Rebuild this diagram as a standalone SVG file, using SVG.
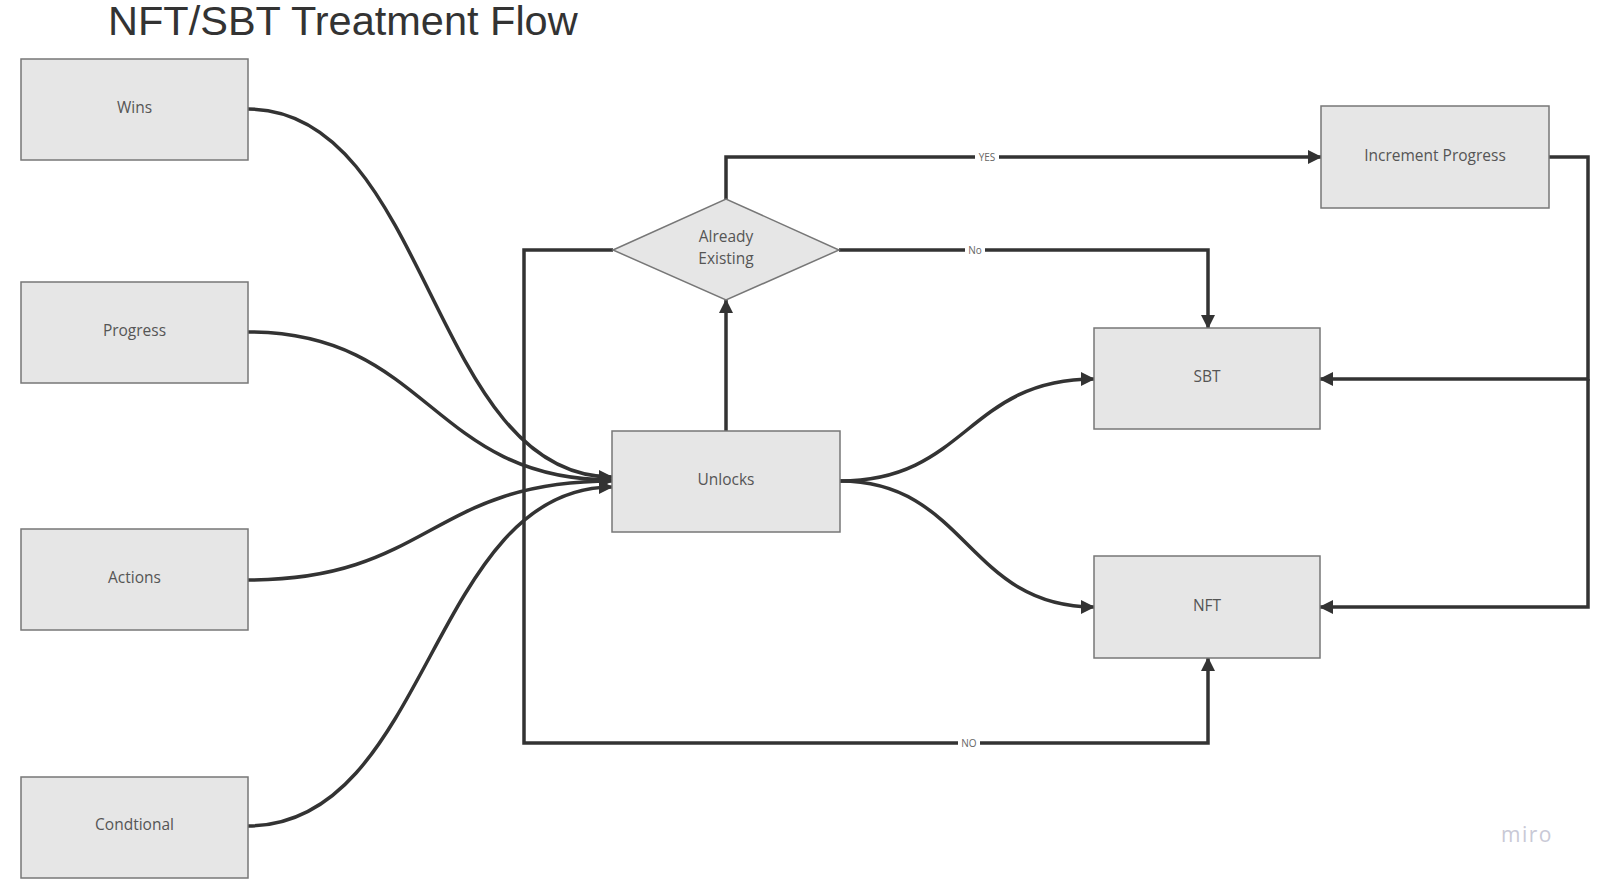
<svg xmlns="http://www.w3.org/2000/svg" width="1600" height="886" viewBox="0 0 1600 886">
<style>
.box{fill:#e6e6e6;stroke:#777;stroke-width:1.5}
.lbl{font-family:"Open Sans","Noto Sans",sans-serif;font-size:15.5px;fill:#555;text-anchor:middle;dominant-baseline:central}
.edge{fill:none;stroke:#333;stroke-width:3.5}
.el{font-family:"Open Sans","Noto Sans",sans-serif;font-size:10px;fill:#666;text-anchor:middle;dominant-baseline:central}
.title{font-family:"Liberation Sans",Arial,sans-serif;font-size:41.5px;fill:#333}
</style>
<defs>
<marker id="arr" markerUnits="userSpaceOnUse" markerWidth="14" markerHeight="14" refX="13" refY="7" orient="auto">
<path d="M0,0 L14,7 L0,14 z" fill="#333"/>
</marker>
</defs>
<rect width="1600" height="886" fill="#fff"/>
<text class="title" x="108" y="35">NFT/SBT Treatment Flow</text>

<g id="connectors">
<path class="edge" d="M248,109 C430,109 430,477 612,477" marker-end="url(#arr)"/>
<path class="edge" d="M248,332 C430,332 430,480 612,480" marker-end="url(#arr)"/>
<path class="edge" d="M248,580 C430,580 430,481 612,481" marker-end="url(#arr)"/>
<path class="edge" d="M248,826 C430,826 430,487 612,487" marker-end="url(#arr)"/>
<path class="edge" d="M726,431 L726,300" marker-end="url(#arr)"/>
<path class="edge" d="M840,481 C967,481 967,379 1094,379" marker-end="url(#arr)"/>
<path class="edge" d="M840,481 C967,481 967,607 1094,607" marker-end="url(#arr)"/>
<path class="edge" d="M726,199 L726,157 L1321,157" marker-end="url(#arr)"/>
<path class="edge" d="M839,250 L1208,250 L1208,328" marker-end="url(#arr)"/>
<path class="edge" d="M613,250 L524,250 L524,743 L1208,743 L1208,658" marker-end="url(#arr)"/>
<path class="edge" d="M1549,157 L1588,157 L1588,379 L1320,379" marker-end="url(#arr)"/>
<path class="edge" d="M1588,379 L1588,607 L1320,607" marker-end="url(#arr)"/>
<rect x="975" y="150" width="24" height="14" fill="#fff"/>
<text class="el" x="987" y="157">YES</text>
<rect x="965" y="243" width="20" height="14" fill="#fff"/>
<text class="el" x="975" y="250">No</text>
<rect x="958" y="736" width="22" height="14" fill="#fff"/>
<text class="el" x="969" y="743">NO</text>
</g>

<g id="wins"><rect class="box" x="21" y="59" width="227" height="101"/><text class="lbl" x="134.5" y="107">Wins</text></g>
<g id="progress"><rect class="box" x="21" y="282" width="227" height="101"/><text class="lbl" x="134.5" y="330">Progress</text></g>
<g id="actions"><rect class="box" x="21" y="529" width="227" height="101"/><text class="lbl" x="134.5" y="577">Actions</text></g>
<g id="conditional"><rect class="box" x="21" y="777" width="227" height="101"/><text class="lbl" x="134.5" y="824">Condtional</text></g>
<g id="unlocks"><rect class="box" x="612" y="431" width="228" height="101"/><text class="lbl" x="726" y="479">Unlocks</text></g>
<g id="already-existing"><polygon class="box" points="613,250 726,199 839,250 726,300"/><text class="lbl" x="726" y="236">Already</text><text class="lbl" x="726" y="258">Existing</text></g>
<g id="increment-progress"><rect class="box" x="1321" y="106" width="228" height="102"/><text class="lbl" x="1435" y="155">Increment Progress</text></g>
<g id="sbt"><rect class="box" x="1094" y="328" width="226" height="101"/><text class="lbl" x="1207" y="376">SBT</text></g>
<g id="nft"><rect class="box" x="1094" y="556" width="226" height="102"/><text class="lbl" x="1207" y="605">NFT</text></g>

<text x="1527" y="842" font-family="'Open Sans','Noto Sans',sans-serif" font-size="21" fill="#c9c9d6" text-anchor="middle" letter-spacing="1.5">miro</text>
</svg>
